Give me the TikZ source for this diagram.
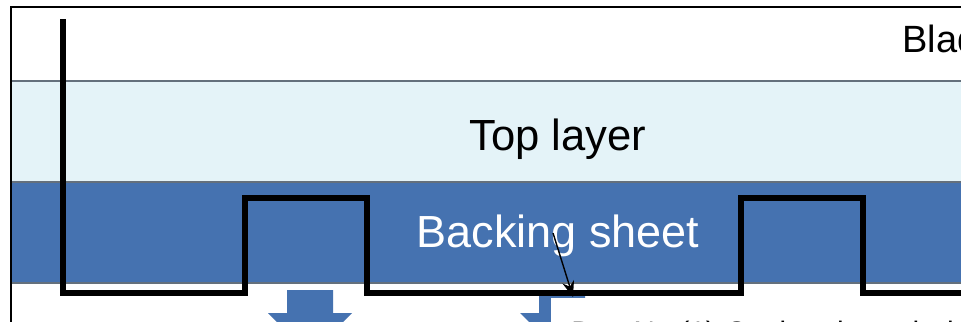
\documentclass[tikz,border=0pt]{standalone}
\usepackage{fontspec}
\setmainfont{Liberation Sans}
\usetikzlibrary{arrows.meta,positioning,calc}
\definecolor{sheetBlue}{RGB}{69,114,176}
\definecolor{topBlue}{RGB}{228,243,248}
\definecolor{edgeGrey}{RGB}{100,112,124}
\tikzset{
  layerlabel/.style={anchor=base, inner sep=0pt, font=\fontsize{31pt}{36pt}\selectfont},
  cutline/.style={line width=0.15cm, draw=black, line join=miter},
  sepline/.style={draw=edgeGrey, line width=0.8pt},
  pressarrow/.style={fill=sheetBlue, draw=none},
  pointer/.style={-{Stealth[length=4mm, width=3mm]}, draw=black, line width=1pt}
}

\begin{document}
\begin{tikzpicture}[x=0.025cm, y=-0.025cm]
  \useasboundingbox (0,0) rectangle (961,322);
  \clip (0,0) rectangle (961,322);
  \fill[white] (0,0) rectangle (961,322);

  % layers
  \fill[topBlue] (11,81) rectangle (970,182);
  \fill[sheetBlue] (11,182) rectangle (970,283);
  \draw[sepline] (11,81) -- (970,81);
  \draw[sepline] (11,182) -- (970,182);
  \draw[sepline] (11,283) -- (970,283);
  \draw[black, line width=1pt] (11,330) -- (11,7) -- (970,7);

  % labels
  \node[layerlabel] (blade) at (902,52) [anchor=base west, font=\fontsize{27pt}{32pt}\selectfont] {Blade};
  \node[layerlabel] (top) at (558,150) {Top layer};
  \node[layerlabel, text=white, font=\fontsize{32pt}{37pt}\selectfont] (backing) at (558,247) {Backing sheet};

  % press arrows
  \foreach \cx in {310,562} {
    \fill[pressarrow] (\cx-23,290) -- (\cx+23,290) -- (\cx+23,313) -- (\cx+42,313)
      -- (\cx,355) -- (\cx-42,313) -- (\cx-23,313) -- cycle;
  }

  % cutting line
  \draw[cutline] (63,19) -- (63,293) -- (245,293) -- (245,198) -- (367,198) -- (367,293)
    -- (741,293) -- (741,198) -- (863,198) -- (863,293) -- (975,293);

  % callout
  \node[anchor=north west, fill=white, inner xsep=0.45cm, inner ysep=0pt,
        text height=1.1cm, text depth=0.3cm, minimum width=12cm,
        text width=11cm, align=left, font=\fontsize{21pt}{25pt}\selectfont]
        (callout) at (551,298) {Doc No.(1) Cutting through the label};
  \coordinate (ptr) at (553,233);
  \draw[pointer] (ptr) -- ($(callout.north west)+(22,-1)$);
\end{tikzpicture}
\end{document}
